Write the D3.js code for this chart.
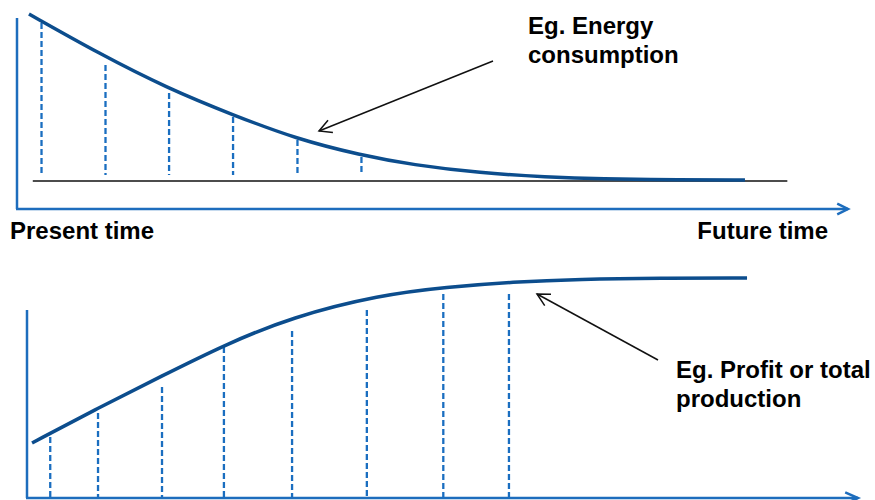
<!DOCTYPE html>
<html>
<head>
<meta charset="utf-8">
<script src="https://cdn.jsdelivr.net/npm/d3@7"></script>
<style>
  html, body { margin: 0; padding: 0; background: #fff; }
  svg { display: block; }
  text { font-family: "Liberation Sans", Arial, sans-serif; font-weight: bold; fill: #000; }
</style>
</head>
<body>
<script>
// ---------- DATA (time 0..100, level 0..100) ----------
// Top panel: decreasing curve (e.g. energy consumption)
const topCurveTime  = [1.44, 9.99, 18.05, 25.99, 33.69, 41.28, 47.65, 55.72, 63.78, 70.16, 79.78, 87.6];
const topCurveLevel = [100, 76.0, 55.7, 39.5, 25.1, 15.6, 9.6, 4.8, 2.4, 1.2, 0.6, 0.6];
const topDashTime   = [2.95, 10.65, 18.3, 26.0, 33.75, 41.45];
const topDashLevel  = [94.6, 69.5, 52.7, 38.3, 24.6, 14.4];
const topBaseline   = [1.9, 92.7];   // time extent of the zero line

// Bottom panel: increasing curve (e.g. profit or total production)
const botCurveTime  = [1.81, 9.75, 17.45, 24.91, 33.09, 43.68, 51.74, 59.69, 67.75, 77.38, 87.85];
const botCurveLevel = [25.0, 40.9, 55.5, 69.5, 82.3, 92.3, 95.9, 98.2, 99.5, 100, 100];
const botDashTime   = [4.0, 9.75, 17.45, 24.9, 33.1, 42.1, 51.3, 59.2];
const botDashLevel  = [27.7, 38.6, 50.5, 68.6, 75.9, 85.5, 92.7, 92.7];

// Labels
const axisLabels = ["Present time", "Future time"];
const topNote = ["Eg. Energy", "consumption"];
const botNote = ["Eg. Profit or total", "production"];

// ---------- LAYOUT ----------
const W = 875, H = 500;
const curveColor = "#0c4d8d";
const axisColor  = "#1d6dbd";
const dashColor  = "#1a6ec0";
const fontSize = "24px";

const svg = d3.select("body").append("svg").attr("width", W).attr("height", H);

const x = d3.scaleLinear().domain([0, 100]).range([17, 848]);
const yTop = d3.scaleLinear().domain([0, 100]).range([181, 14]);
const yBot = d3.scaleLinear().domain([0, 100]).range([498, 278]);

function chevron(g, tipX, tipY, angleDeg, len, spread, color, width) {
  const a = angleDeg * Math.PI / 180;
  const pts = [-spread, spread].map(s => {
    const b = a + Math.PI + s * Math.PI / 180;
    return [tipX + len * Math.cos(b), tipY + len * Math.sin(b)];
  });
  g.append("path")
    .attr("d", `M${pts[0][0]},${pts[0][1]}L${tipX},${tipY}L${pts[1][0]},${pts[1][1]}`)
    .attr("fill", "none").attr("stroke", color).attr("stroke-width", width)
    .attr("stroke-linecap", "butt").attr("stroke-linejoin", "miter");
}

function arrowLine(g, x1, y1, x2, y2, color, width, headLen, spread) {
  g.append("line").attr("x1", x1).attr("y1", y1).attr("x2", x2).attr("y2", y2)
    .attr("stroke", color).attr("stroke-width", width);
  const ang = Math.atan2(y2 - y1, x2 - x1) * 180 / Math.PI;
  chevron(g, x2, y2, ang, headLen, spread, color, width);
}

const line = d3.line().curve(d3.curveBasis);

// ---------- TOP PANEL ----------
const gTop = svg.append("g");
gTop.append("line").attr("x1", x(0)).attr("x2", x(0)).attr("y1", 18).attr("y2", 209)
  .attr("stroke", axisColor).attr("stroke-width", 2.5);
gTop.append("line").attr("x1", x(0) - 1).attr("x2", x(100)).attr("y1", 209).attr("y2", 209)
  .attr("stroke", axisColor).attr("stroke-width", 2.5);
chevron(gTop, x(100), 209, 0, 12, 26, axisColor, 2.5);

gTop.append("line").attr("x1", x(topBaseline[0])).attr("x2", x(topBaseline[1]))
  .attr("y1", yTop(0)).attr("y2", yTop(0)).attr("stroke", "#111").attr("stroke-width", 1.6);

gTop.selectAll(".dash").data(topDashTime).join("line")
  .attr("x1", d => x(d)).attr("x2", d => x(d))
  .attr("y1", (d, i) => yTop(topDashLevel[i])).attr("y2", yTop(3.6))
  .attr("stroke", dashColor).attr("stroke-width", 2.3).attr("stroke-dasharray", "6,3");

gTop.append("path")
  .attr("d", line(topCurveTime.map((t, i) => [x(t), yTop(topCurveLevel[i])])))
  .attr("fill", "none").attr("stroke", curveColor).attr("stroke-width", 3.5);

arrowLine(gTop, 493, 61, 319, 131, "#111", 1.5, 14, 28);

gTop.append("text").attr("x", 528).attr("y", 34).style("font-size", fontSize).text(topNote[0]);
gTop.append("text").attr("x", 528).attr("y", 63).style("font-size", fontSize).text(topNote[1]);

gTop.append("text").attr("x", 10).attr("y", 239).style("font-size", fontSize).text(axisLabels[0]);
gTop.append("text").attr("x", 828).attr("y", 239).attr("text-anchor", "end").style("font-size", fontSize).text(axisLabels[1]);

// ---------- BOTTOM PANEL ----------
const gBot = svg.append("g");
gBot.append("line").attr("x1", 27).attr("x2", 27).attr("y1", 310).attr("y2", yBot(0))
  .attr("stroke", axisColor).attr("stroke-width", 2.5);
gBot.append("line").attr("x1", 26).attr("x2", 858).attr("y1", yBot(0)).attr("y2", yBot(0))
  .attr("stroke", axisColor).attr("stroke-width", 2.5);
chevron(gBot, 858, yBot(0), 0, 14, 24, axisColor, 2.5);

gBot.selectAll(".dash").data(botDashTime).join("line")
  .attr("x1", d => x(d)).attr("x2", d => x(d))
  .attr("y1", (d, i) => yBot(botDashLevel[i])).attr("y2", yBot(0))
  .attr("stroke", dashColor).attr("stroke-width", 2.3).attr("stroke-dasharray", "6,3");

gBot.append("path")
  .attr("d", line(botCurveTime.map((t, i) => [x(t), yBot(botCurveLevel[i])])))
  .attr("fill", "none").attr("stroke", curveColor).attr("stroke-width", 3.5);

arrowLine(gBot, 658, 360, 537, 294, "#111", 1.5, 14, 28);

gBot.append("text").attr("x", 676).attr("y", 378).style("font-size", fontSize).text(botNote[0]);
gBot.append("text").attr("x", 676).attr("y", 407).style("font-size", fontSize).text(botNote[1]);
</script>
</body>
</html>
